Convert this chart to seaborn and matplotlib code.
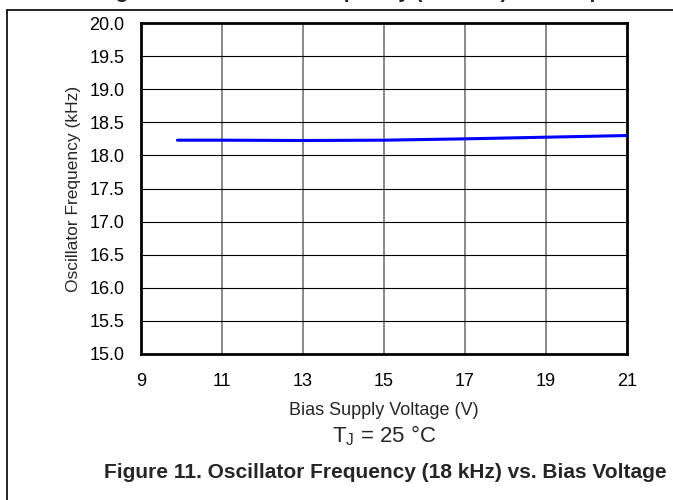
import numpy as np
import pandas as pd
import matplotlib
matplotlib.use("Agg")
import matplotlib.pyplot as plt
from matplotlib.lines import Line2D
import seaborn as sns

# values
bias_voltage = [9.9, 11, 13, 15, 17, 19, 21]
osc_freq_khz = [18.23, 18.23, 18.225, 18.23, 18.25, 18.275, 18.30]

x_ticks = [9, 11, 13, 15, 17, 19, 21]
y_ticks = [15.0, 15.5, 16.0, 16.5, 17.0, 17.5, 18.0, 18.5, 19.0, 19.5, 20.0]

sns.set_style("white")
plt.rcParams["font.family"] = ["Liberation Sans", "DejaVu Sans"]
plt.rcParams["mathtext.fontset"] = "custom"
plt.rcParams["mathtext.rm"] = "Liberation Sans"

df = pd.DataFrame({"voltage": bias_voltage, "freq": osc_freq_khz})

fig = plt.figure(figsize=(6.73, 5.0), dpi=100)
ax = fig.add_axes([141 / 673, 1 - 354 / 500, (627 - 141) / 673, (354 - 23) / 500])

# grid first so the curve sits on top
for xv in x_ticks[1:-1]:
    ax.axvline(xv, color="#808080", lw=1.3, zorder=1)
for yv in y_ticks[1:-1]:
    ax.axhline(yv, color="black", lw=0.8, zorder=1)

sns.lineplot(data=df, x="voltage", y="freq", color="#0000ff", lw=2.2, ax=ax, zorder=3)

ax.set_xlim(9, 21)
ax.set_ylim(15, 20)
ax.set_xticks(x_ticks)
ax.set_xticklabels([str(v) for v in x_ticks])
ax.set_yticks(y_ticks)
ax.set_yticklabels([f"{v:.1f}" for v in y_ticks])
ax.tick_params(axis="both", length=0, labelsize=13, colors="black")
ax.tick_params(axis="x", pad=14)
ax.tick_params(axis="y", pad=12)
for s in ax.spines.values():
    s.set_color("black")
    s.set_linewidth(2.0)

ax.set_xlabel("Bias Supply Voltage (V)", fontsize=13, labelpad=8)
ax.set_ylabel("Oscillator Frequency (kHz)", fontsize=12.5, labelpad=6)

fig.text(384 / 673, 1 - 436 / 500, r"$\mathregular{T_{J}}$ = 25 °C", fontsize=16,
         ha="center", va="center")
fig.text(385 / 673, 1 - 473 / 500, "Figure 11. Oscillator Frequency (18 kHz) vs. Bias Voltage",
         fontsize=15, fontweight="bold", ha="center", va="center")

# caption of the previous figure, cut off by the page crop, and the page frame
fig.text(385 / 673, 1 + 2.5 / 500, "Figure 10. Oscillator Frequency (130 kHz) vs. Temperature",
         fontsize=15, fontweight="bold", ha="center", va="baseline")
fig.add_artist(Line2D([7 / 673, 7 / 673], [0, 1 - 10 / 500], color="black", lw=1.2))
fig.add_artist(Line2D([7 / 673, 1], [1 - 10 / 500, 1 - 10 / 500], color="black", lw=1.2))

fig.savefig("out.png", dpi=100)
plt.close(fig)
